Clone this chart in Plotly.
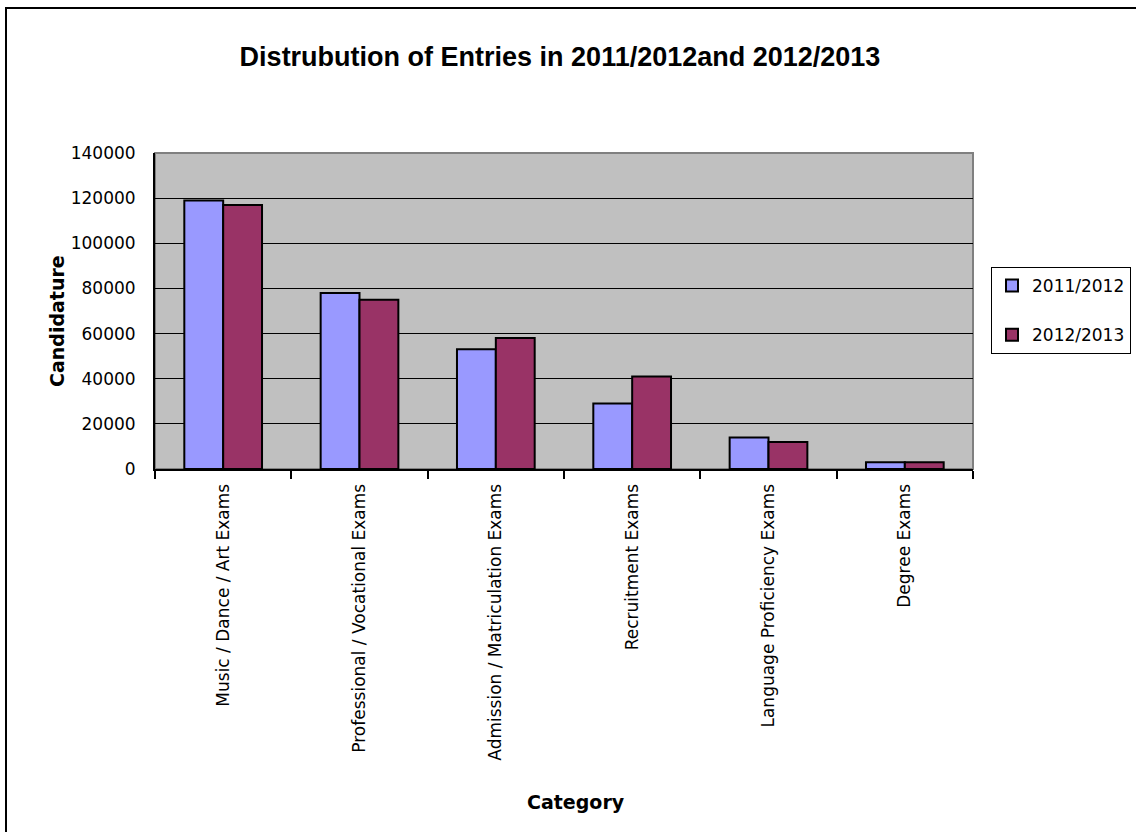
import plotly.graph_objects as go

categories = ["Music / Dance / Art Exams", "Professional / Vocational Exams",
              "Admission / Matriculation Exams", "Recruitment Exams",
              "Language Proficiency Exams", "Degree Exams"]
series_names = ["2011/2012", "2012/2013"]
values_2011 = [119000, 78000, 53000, 29000, 14000, 3000]
values_2012 = [117000, 75000, 58000, 41000, 12000, 3000]
y_ticks = [0, 20000, 40000, 60000, 80000, 100000, 120000, 140000]

colors = ["#9999FF", "#993366"]

W, H = 1136, 832
L, R, T, B = 155, 163, 153, 363
pw = W - L - R
ph = H - T - B

def px_x(x):
    return (x - L) / pw

def px_y(y):
    return (H - B - y) / ph

fig = go.Figure()
for i, (name, vals) in enumerate(zip(series_names, [values_2011, values_2012])):
    fig.add_trace(go.Bar(
        x=categories, y=vals, name=name, legendgroup=name,
        marker=dict(color=colors[i], line=dict(color="black", width=2)),
    ))

tick_font = dict(family="DejaVu Sans", size=17, color="black")

fig.update_layout(
    width=W, height=H,
    margin=dict(l=L, r=R, t=T, b=B, pad=0, autoexpand=False),
    paper_bgcolor="white",
    plot_bgcolor="#C0C0C0",
    barmode="group", bargap=0.43, bargroupgap=0,
    title=dict(text="<b>Distrubution of Entries in 2011/2012and 2012/2013</b>",
               x=560 / W, xanchor="center", y=1 - 57 / H, yanchor="middle",
               font=dict(family="Liberation Sans", size=27, color="black")),
    legend=dict(x=px_x(991), y=px_y(267), xanchor="left", yanchor="top",
                bordercolor="black", borderwidth=1, bgcolor="white",
                font=dict(family="DejaVu Sans", size=17, color="black"),
                itemwidth=30,
                tracegroupgap=24, itemclick=False),
    xaxis=dict(
        type="category", showline=True, linecolor="black", linewidth=2,
        ticks="outside", ticklen=8, tickwidth=1.5, tickcolor="black",
        tickson="boundaries", tickangle=-90, tickfont=tick_font,
        showgrid=False, ticklabelstandoff=6, automargin=False,
    ),
    yaxis=dict(
        range=[0, 140000], tickvals=y_ticks, tickformat="d",
        showline=True, linecolor="black", linewidth=2,
        ticks="inside", ticklen=5, tickcolor="black",
        showgrid=True, gridcolor="black", gridwidth=1,
        tickfont=tick_font, zeroline=False, ticklabelstandoff=14,
        automargin=False,
    ),
    shapes=[
        dict(type="rect", xref="paper", yref="paper", x0=0, x1=1, y0=0, y1=1,
             line=dict(color="#808080", width=2), layer="below"),
        dict(type="rect", xref="paper", yref="paper",
             x0=px_x(6), x1=px_x(1145), y0=px_y(845), y1=px_y(8),
             line=dict(color="black", width=2), layer="below"),
    ],
)

fig.add_annotation(text="<b>Category</b>", xref="paper", yref="paper",
                   x=px_x(576), y=px_y(802), xanchor="center", yanchor="middle",
                   showarrow=False,
                   font=dict(family="DejaVu Sans", size=19, color="black"))
fig.add_annotation(text="<b>Candidature</b>", xref="paper", yref="paper",
                   x=px_x(57), y=px_y(321), xanchor="center", yanchor="middle",
                   showarrow=False, textangle=-90,
                   font=dict(family="DejaVu Sans", size=19, color="black"))

fig.write_html("out.html")
